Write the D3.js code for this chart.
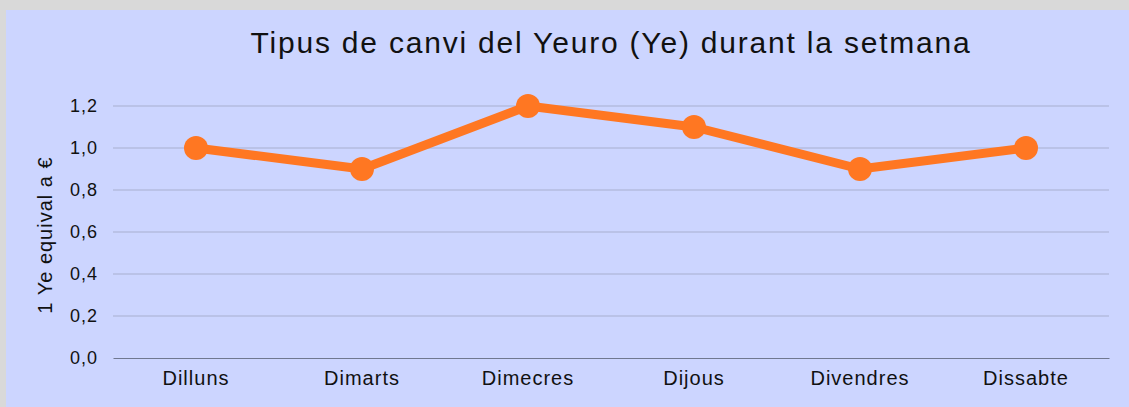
<!DOCTYPE html>
<html><head><meta charset="utf-8">
<script src="https://cdn.jsdelivr.net/npm/d3@7"></script>
<style>
html,body{margin:0;padding:0;background:#d9d9d9;}
svg{display:block;}
</style></head>
<body>
<script>
const categories = ["Dilluns","Dimarts","Dimecres","Dijous","Divendres","Dissabte"];
const values = [1.0, 0.9, 1.2, 1.1, 0.9, 1.0];
const yTicks = [0, 0.2, 0.4, 0.6, 0.8, 1.0, 1.2];
const title = "Tipus de canvi del Yeuro (Ye) durant la setmana";
const yLabel = "1 Ye equival a €";

(function(){
const W = 1129, H = 407;
const FONT = "Liberation Sans, Arial, sans-serif";
const svg = d3.select("body").append("svg").attr("width", W).attr("height", H);
svg.append("rect").attr("x",0).attr("y",0).attr("width",W).attr("height",H).attr("fill","#d9d9d9");
svg.append("rect").attr("x",6).attr("y",10).attr("width",W-6).attr("height",H-10).attr("fill","#ccd5ff");

const mLeft = 113, mRight = 1109, mTop = 106, mBottom = 358;
const x = d3.scaleBand().domain(categories).range([mLeft, mRight]);
const y = d3.scaleLinear().domain([0, 1.2]).range([mBottom, mTop]);
const fmt = v => d3.format(".1f")(v).replace(".", ",");

svg.append("g").selectAll("line").data(yTicks.filter(d => d > 0)).join("line")
  .attr("x1", mLeft).attr("x2", mRight)
  .attr("y1", d => y(d)).attr("y2", d => y(d))
  .attr("stroke", "#a8afcf").attr("stroke-width", 1.2);

const yAxis = d3.axisLeft(y).tickValues(yTicks).tickFormat(fmt).tickSize(0).tickPadding(15);
const gy = svg.append("g").attr("transform", `translate(${mLeft},0)`).call(yAxis);
gy.select(".domain").remove();
gy.selectAll("text").attr("font-family",FONT).attr("font-size",18).attr("letter-spacing",1).attr("fill","#111");

const xAxis = d3.axisBottom(x).tickSize(0).tickPadding(13);
const gx = svg.append("g").attr("transform", `translate(0,${mBottom})`).call(xAxis);
gx.select(".domain").attr("stroke","#707890").attr("stroke-width",1.2);
gx.selectAll("text").attr("font-family",FONT).attr("font-size",20).attr("letter-spacing",1).attr("fill","#111");

const line = d3.line().x((d,i) => x(categories[i]) + x.bandwidth()/2).y(d => y(d));
svg.append("path").datum(values).attr("d", line)
  .attr("fill","none").attr("stroke","#ff7722").attr("stroke-width",9).attr("stroke-linejoin","round");
svg.append("g").selectAll("circle").data(values).join("circle")
  .attr("cx", (d,i) => x(categories[i]) + x.bandwidth()/2)
  .attr("cy", d => y(d)).attr("r", 12).attr("fill","#ff7722");

svg.append("text").attr("x", (mLeft+mRight)/2).attr("y", 53).attr("text-anchor","middle")
  .attr("font-family",FONT).attr("font-size",30).attr("letter-spacing",1.8).attr("fill","#111").text(title);

svg.append("text").attr("transform", `translate(52,235) rotate(-90)`).attr("text-anchor","middle")
  .attr("font-family",FONT).attr("font-size",20).attr("letter-spacing",1).attr("fill","#111").text(yLabel);
})();
</script>
</body></html>
